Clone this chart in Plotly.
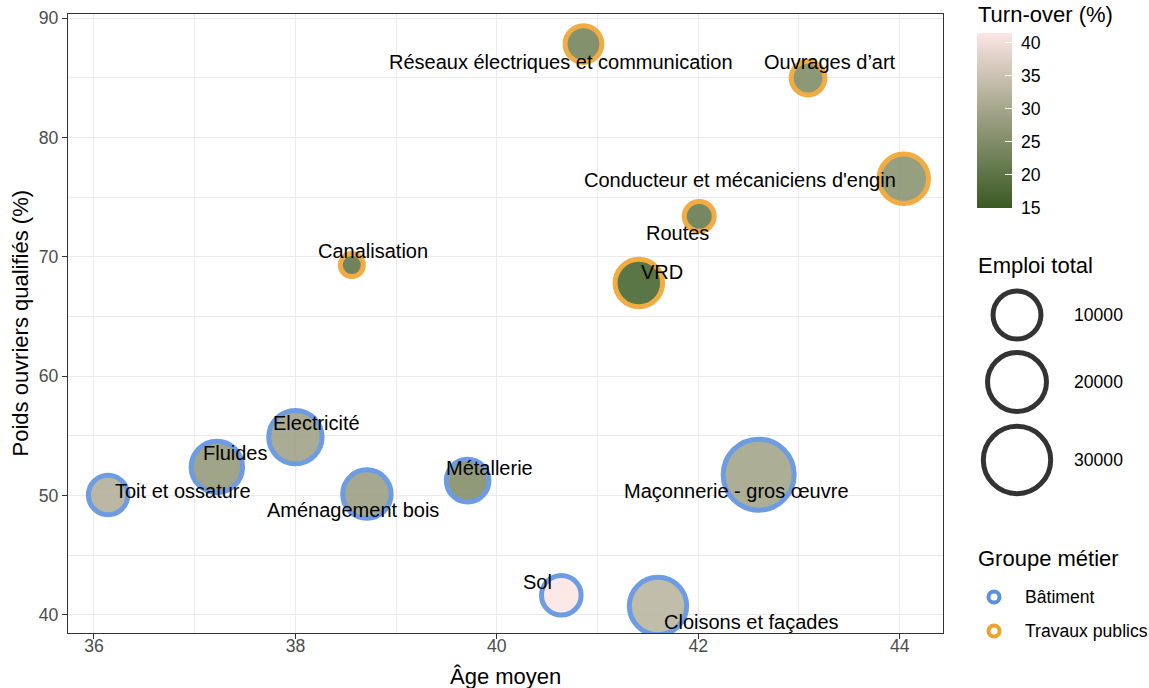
import numpy as np
import plotly.graph_objects as go

# ---------------- data ----------------
metiers = ["Réseaux électriques et communication", "Ouvrages d’art",
           "Conducteur et mécaniciens d'engin", "Routes", "Canalisation", "VRD",
           "Electricité", "Fluides", "Toit et ossature", "Aménagement bois",
           "Métallerie", "Sol", "Cloisons et façades", "Maçonnerie - gros œuvre"]
groupe = ["Travaux publics"] * 6 + ["Bâtiment"] * 8
age_moyen = [40.86, 43.09, 44.04, 42.01, 38.56, 41.41, 38.00, 37.22, 36.14, 38.71,
             39.71, 40.64, 41.60, 42.60]
poids_oq = [87.82, 84.97, 76.53, 73.39, 69.31, 67.81, 54.90, 52.40, 50.05, 50.13,
            51.25, 41.65, 40.75, 51.75]
emploi = [3600, 2500, 11200, 1500, 800, 9700, 14500, 12800, 4800, 10400, 6500,
          4900, 18300, 35000]
turnover = [23, 24.5, 26, 21, 20, 16.5, 29, 27.5, 31.5, 28.5, 25, 41.5, 32.5, 29.5]

groupes = ["Bâtiment", "Travaux publics"]
emploi_breaks = [10000, 20000, 30000]
turnover_ticks = [15, 20, 25, 30, 35, 40]
turnover_limits = [15, 41.5]

# label offsets in screen pixels (dx right, dy down)
label_offsets = [(-22, 18), (22, -16), (-164, 1), (-22, 17), (21, -14), (23, -11),
                 (21, -14), (18, -14), (75, -4), (-14, 16), (22, -13), (-24, -13),
                 (94, 16), (-22, 16)]

# ---------------- styles ----------------
group_colors = {"Bâtiment": "#5b8fdf", "Travaux publics": "#f0a12a"}
LOW, HIGH = "#3a5a23", "#fde5e5"
FONT = "Liberation Sans, Arial, sans-serif"
STROKE = 5

# ---------------- scales ----------------
def hex2rgb(h):
    h = h.lstrip("#")
    return [int(h[i:i + 2], 16) / 255 for i in (0, 2, 4)]

def rgb2lab(c):
    c = np.array(c)
    lin = np.where(c <= 0.04045, c / 12.92, ((c + 0.055) / 1.055) ** 2.4)
    M = np.array([[0.4124, 0.3576, 0.1805], [0.2126, 0.7152, 0.0722], [0.0193, 0.1192, 0.9505]])
    X, Y, Z = M @ lin
    X /= 0.95047; Z /= 1.08883
    f = lambda t: np.where(t > 0.008856, np.cbrt(t), 7.787 * t + 16 / 116)
    fx, fy, fz = f(X), f(Y), f(Z)
    return np.array([116 * fy - 16, 500 * (fx - fy), 200 * (fy - fz)])

def lab2hex(lab):
    L, a, b = lab
    fy = (L + 16) / 116; fx = fy + a / 500; fz = fy - b / 200
    finv = lambda t: t ** 3 if t ** 3 > 0.008856 else (t - 16 / 116) / 7.787
    X, Y, Z = finv(fx) * 0.95047, finv(fy), finv(fz) * 1.08883
    Mi = np.array([[3.2406, -1.5372, -0.4986], [-0.9689, 1.8758, 0.0415], [0.0557, -0.2040, 1.0570]])
    lin = Mi @ np.array([X, Y, Z])
    lin = np.clip(lin, 0, 1)
    c = np.where(lin <= 0.0031308, 12.92 * lin, 1.055 * lin ** (1 / 2.4) - 0.055)
    c = np.clip(np.round(c * 255), 0, 255).astype(int)
    return "#%02x%02x%02x" % tuple(c)

lab_lo, lab_hi = rgb2lab(hex2rgb(LOW)), rgb2lab(hex2rgb(HIGH))
colorscale = [[t, lab2hex(lab_lo + (lab_hi - lab_lo) * t)] for t in np.linspace(0, 1, 21)]

vmin, vmax = min(emploi), max(emploi)
D_MIN, D_SPAN = 28, 48
def diam(v):
    return D_MIN + D_SPAN * np.sqrt((np.asarray(v, float) - vmin) / (vmax - vmin))

# ---------------- geometry (screen px of the reference) ----------------
W, H = 1149, 688
PANEL_L, PANEL_R, PANEL_T, PANEL_B = 68, 943, 14, 633
ML, MT = PANEL_L, PANEL_T
MR = 2
PW = W - ML - MR
PH = PANEL_B - PANEL_T
MB = H - MT - PH

def px_x(sx):  # screen x -> paper
    return (sx - ML) / PW

def px_y(sy):  # screen y -> paper
    return (PANEL_B - sy) / PH

xdom_end = px_x(PANEL_R)

fig = go.Figure()

for g in groupes:
    idx = [i for i, gg in enumerate(groupe) if gg == g]
    fig.add_trace(go.Scatter(
        x=[age_moyen[i] for i in idx], y=[poids_oq[i] for i in idx],
        mode="markers", showlegend=False, hoverinfo="skip",
        marker=dict(size=[d - STROKE for d in diam([emploi[i] for i in idx])],
                    color=[turnover[i] for i in idx], coloraxis="coloraxis",
                    opacity=0.88, line=dict(color=group_colors[g], width=STROKE)),
    ))

# labels
for i, name in enumerate(metiers):
    dx, dy = label_offsets[i]
    fig.add_annotation(x=age_moyen[i], y=poids_oq[i], text=name, showarrow=False,
                       xshift=dx, yshift=-dy, xanchor="center", yanchor="middle",
                       font=dict(size=20, color="black", family=FONT))

# ---- legend panel on pixel axes (screen coordinates) ----
LX0 = 960
fig.add_trace(go.Scatter(
    x=[1017] * 3, y=[315, 382, 460], xaxis="x2", yaxis="y2", mode="markers",
    showlegend=False, hoverinfo="skip", cliponaxis=False,
    marker=dict(symbol="circle-open", size=[d - STROKE for d in diam(emploi_breaks)],
                color="#333333", opacity=1, line=dict(color="#333333", width=STROKE))))
for k, v in enumerate(emploi_breaks):
    fig.add_annotation(x=1072, y=[315, 382, 460][k], xref="x2", yref="y2", text=str(v),
                       showarrow=False, xanchor="left", yanchor="middle",
                       font=dict(size=17.6, color="black", family=FONT))

for k, g in enumerate(groupes):
    yy = [597, 631][k]
    fig.add_trace(go.Scatter(
        x=[994], y=[yy], xaxis="x2", yaxis="y2", mode="markers", showlegend=False,
        hoverinfo="skip", cliponaxis=False,
        marker=dict(size=11, color="white", opacity=1,
                    line=dict(color=group_colors[g], width=4))))
    fig.add_annotation(x=1023, y=yy, xref="x2", yref="y2", text=g, showarrow=False,
                       xanchor="left", yanchor="middle",
                       font=dict(size=17.6, color="black", family=FONT))

for txt, yy in [("Turn-over (%)", 14), ("Emploi total", 265), ("Groupe métier", 558)]:
    fig.add_annotation(x=976, y=yy, xref="x2", yref="y2", text=txt, showarrow=False,
                       xanchor="left", yanchor="middle",
                       font=dict(size=22, color="black", family=FONT))

# axis titles
fig.add_annotation(x=px_x((PANEL_L + PANEL_R) / 2), y=px_y(676), xref="paper", yref="paper",
                   text="Âge moyen", showarrow=False, xanchor="center", yanchor="middle",
                   font=dict(size=22, color="black", family=FONT))
fig.add_annotation(x=px_x(20), y=px_y((PANEL_T + PANEL_B) / 2), xref="paper", yref="paper",
                   text="Poids ouvriers qualifiés (%)", showarrow=False, textangle=-90,
                   xanchor="center", yanchor="middle",
                   font=dict(size=22, color="black", family=FONT))

axis_common = dict(showline=True, mirror=True, linecolor="#333333", linewidth=1.2,
                   ticks="outside", ticklen=5, tickcolor="#333333", tickwidth=1.2,
                   tickfont=dict(size=17.6, color="#4d4d4d", family=FONT),
                   showgrid=True, gridcolor="#ebebeb", gridwidth=1.4, zeroline=False)

fig.update_layout(
    width=W, height=H, margin=dict(l=ML, r=MR, t=MT, b=MB),
    paper_bgcolor="white", plot_bgcolor="white", font=dict(family=FONT),
    xaxis=dict(domain=[0, xdom_end], range=[35.742, 44.43], dtick=2, tick0=36,
               ticklabelstandoff=-8,
               minor=dict(dtick=1, tick0=36, showgrid=True, gridcolor="#ebebeb", gridwidth=0.7),
               **axis_common),
    yaxis=dict(range=[38.49, 90.335], dtick=10, tick0=40,
               minor=dict(dtick=5, tick0=40, showgrid=True, gridcolor="#ebebeb", gridwidth=0.7),
               **axis_common),
    xaxis2=dict(domain=[px_x(LX0), 1], range=[LX0, ML + PW], visible=False,
                anchor="y2", fixedrange=True),
    yaxis2=dict(domain=[0, 1], range=[PANEL_B, PANEL_T], visible=False, anchor="x2",
                fixedrange=True),
    coloraxis=dict(
        cmin=turnover_limits[0], cmax=turnover_limits[1], colorscale=colorscale,
        colorbar=dict(
            x=px_x(977), xanchor="left", xpad=0,
            y=px_y(33), yanchor="top", ypad=0,
            lenmode="pixels", len=175, thicknessmode="pixels", thickness=35,
            outlinewidth=0, ticks="inside", ticklen=7, tickcolor="white", tickwidth=1,
            tickvals=turnover_ticks, ticktext=["\u00a0" + str(t) for t in turnover_ticks],
            tickfont=dict(size=17.6, color="black", family=FONT),
            title=dict(text=""),
        ),
    ),
)

fig.write_html("out.html", config={"displayModeBar": False},
               post_script="document.body.style.margin='0';document.body.style.overflow='hidden';")
